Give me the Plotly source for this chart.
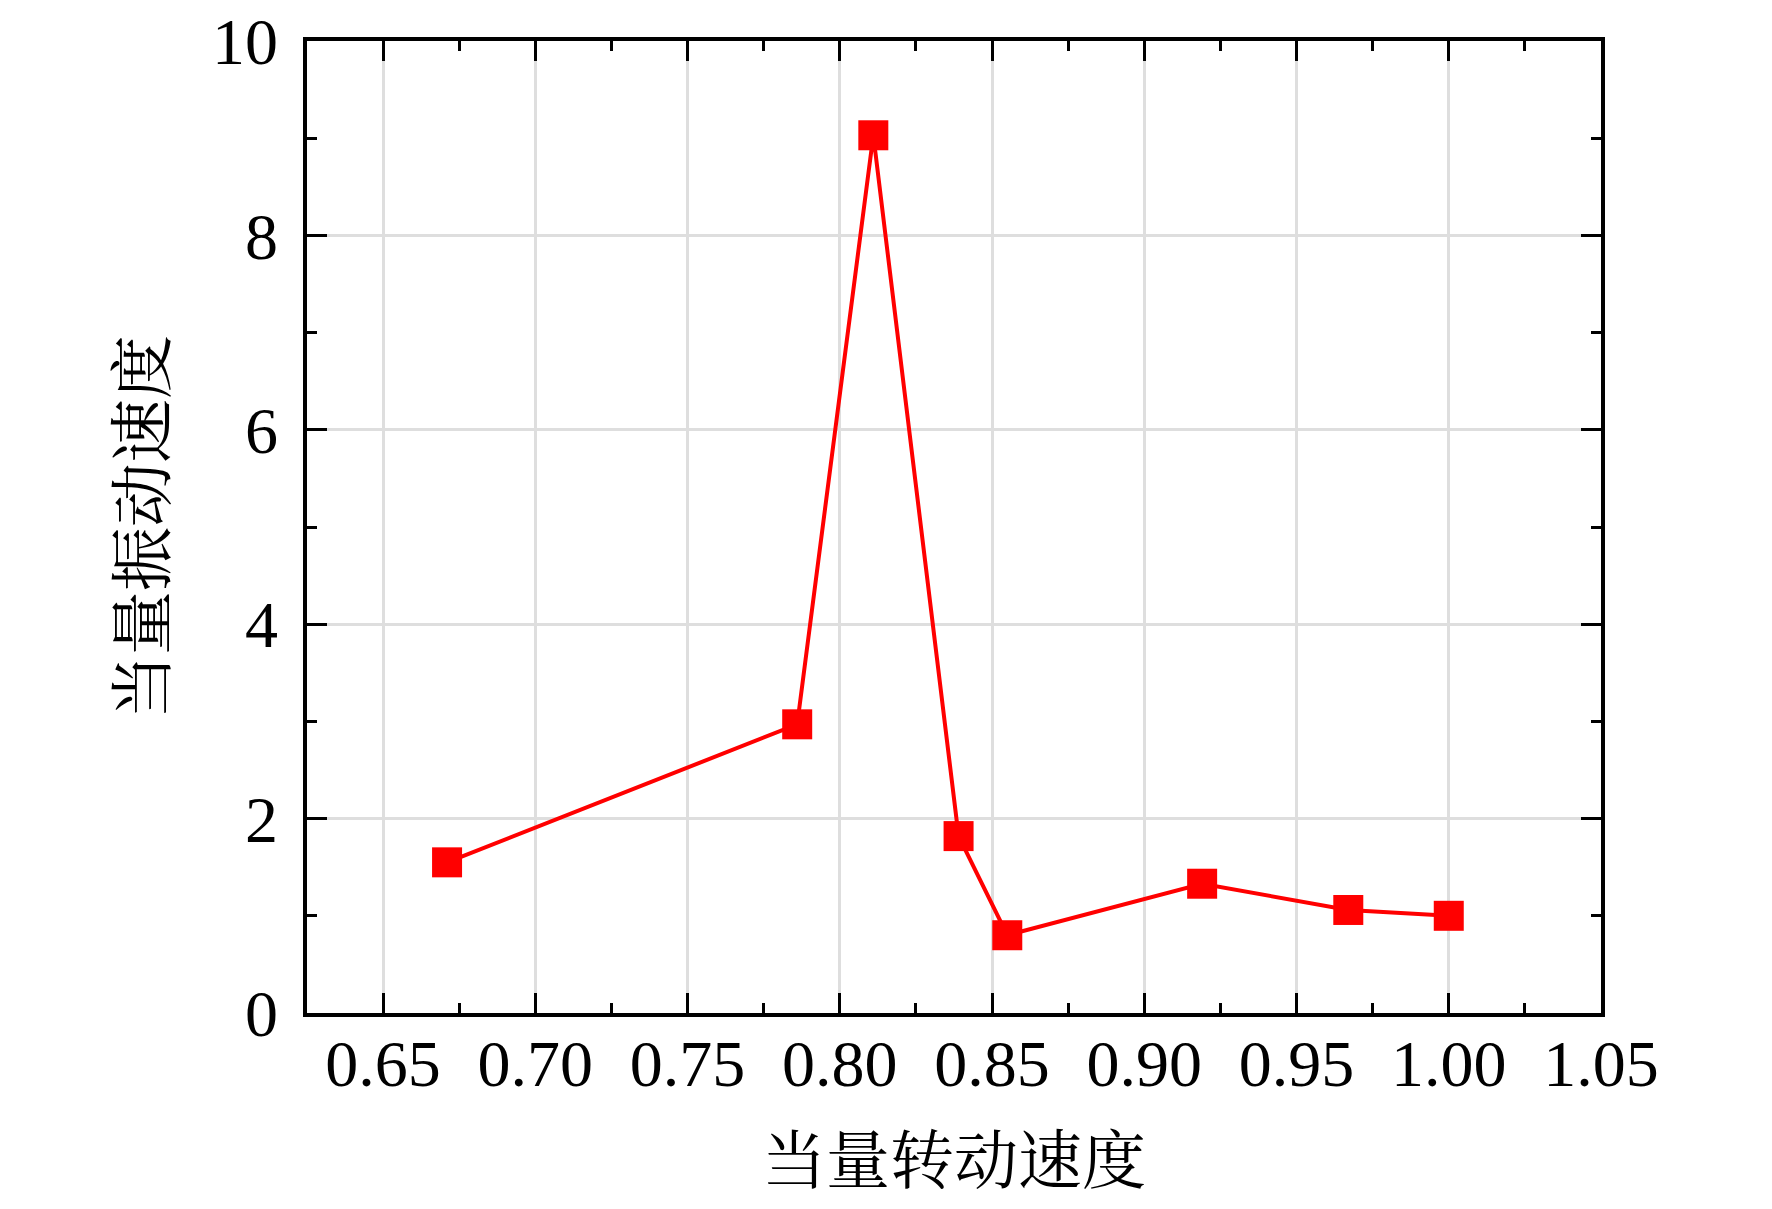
import plotly.graph_objects as go

x_vals = [0.671, 0.786, 0.811, 0.839, 0.855, 0.919, 0.967, 1.000]
y_vals = [1.55, 2.97, 9.03, 1.82, 0.80, 1.33, 1.06, 1.00]
x_title = "当量转动速度"
y_title = "当量振动速度"
x_ticks = [0.65, 0.70, 0.75, 0.80, 0.85, 0.90, 0.95, 1.00, 1.05]
x_ticktext = ["0.65", "0.70", "0.75", "0.80", "0.85", "0.90", "0.95", "1.00", "1.05"]
y_ticks = [0, 2, 4, 6, 8, 10]

FONT = "Liberation Serif, Times New Roman, Noto Serif CJK SC, Noto Sans CJK SC, serif"

fig = go.Figure()
fig.add_trace(go.Scatter(
    x=x_vals, y=y_vals, mode="lines+markers",
    line=dict(color="#FF0000", width=4),
    marker=dict(symbol="square", size=30, color="#FF0000", line=dict(width=0)),
    showlegend=False,
))

axis_common = dict(
    showline=True, linecolor="black", linewidth=3.5, mirror="ticks",
    ticks="inside", ticklen=20, tickwidth=3, tickcolor="black",
    showgrid=True, gridcolor="#DEDEDE", gridwidth=3,
    zeroline=False, ticklabeloverflow="allow", automargin=False,
    tickfont=dict(family=FONT, size=66, color="black"),
)

fig.update_xaxes(
    range=[0.625, 1.05], tickvals=x_ticks, ticktext=x_ticktext,
    ticklabelstandoff=-10,
    minor=dict(dtick=0.025, tick0=0.625, ticks="inside", ticklen=10, tickwidth=3, tickcolor="black", showgrid=False),
    title=dict(text=x_title, font=dict(family=FONT, size=64, color="black"), standoff=40),
    **axis_common,
)
fig.update_yaxes(
    range=[0, 10], tickvals=y_ticks,
    ticklabelstandoff=12,
    minor=dict(dtick=1, tick0=0, ticks="inside", ticklen=10, tickwidth=3, tickcolor="black", showgrid=False),
    title=dict(text=y_title, font=dict(family=FONT, size=64, color="black"), standoff=27),
    **axis_common,
)

fig.update_layout(
    width=1772, height=1209,
    margin=dict(l=299, r=179, t=33, b=204),
    plot_bgcolor="white", paper_bgcolor="white",
)

fig.write_html("out.html")
